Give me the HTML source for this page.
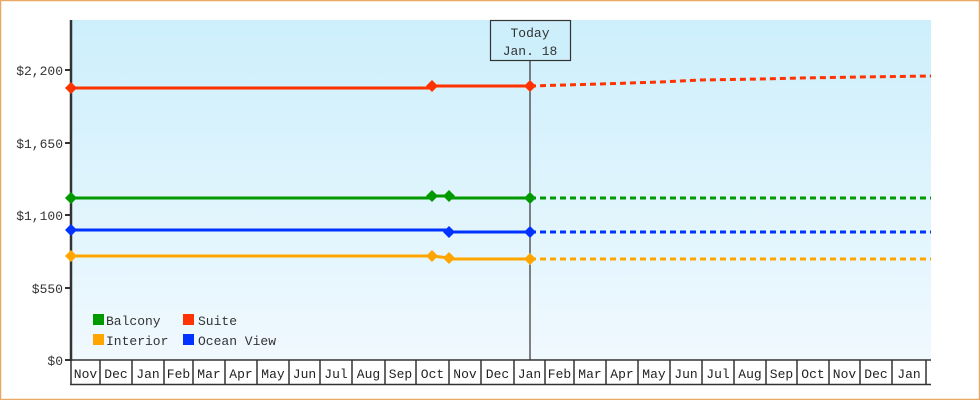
<!DOCTYPE html>
<html><head><meta charset="utf-8"><style>
html,body{margin:0;padding:0;background:#fff;}
svg{display:block;font-family:"Liberation Mono","DejaVu Sans Mono",monospace;}
</style></head><body>
<svg width="980" height="400" viewBox="0 0 980 400" xmlns="http://www.w3.org/2000/svg">
<defs>
<linearGradient id="bg" x1="0" y1="0" x2="0" y2="1">
<stop offset="0" stop-color="#cdeffc"/>
<stop offset="1" stop-color="#f0f9fe"/>
</linearGradient>
</defs>
<rect x="0.5" y="0.5" width="979" height="399" fill="#fff" stroke="#e9a865" stroke-width="1.5"/>
<rect x="71" y="20" width="860" height="340" fill="url(#bg)"/>
<line x1="71" y1="20" x2="71" y2="361" stroke="#333" stroke-width="2.5"/>
<g stroke="#333" stroke-width="2">
<line x1="65" y1="70" x2="71" y2="70"/><line x1="65" y1="143" x2="71" y2="143"/>
<line x1="65" y1="215" x2="71" y2="215"/><line x1="65" y1="288" x2="71" y2="288"/>
<line x1="65" y1="360" x2="71" y2="360"/>
</g>
<g font-size="13" fill="#333" text-anchor="end">
<text x="63" y="75">$2,200</text><text x="63" y="148">$1,650</text>
<text x="63" y="220">$1,100</text><text x="63" y="293">$550</text>
<text x="63" y="365">$0</text>
</g>
<g stroke="#333" stroke-width="1.5">
<line x1="70" y1="360" x2="931" y2="360"/>
<line x1="70" y1="384.5" x2="931" y2="384.5"/>
<line x1="71" y1="360" x2="71" y2="385"/><line x1="100" y1="360" x2="100" y2="385"/><line x1="132" y1="360" x2="132" y2="385"/><line x1="164" y1="360" x2="164" y2="385"/><line x1="193" y1="360" x2="193" y2="385"/><line x1="225" y1="360" x2="225" y2="385"/><line x1="257" y1="360" x2="257" y2="385"/><line x1="289" y1="360" x2="289" y2="385"/><line x1="320" y1="360" x2="320" y2="385"/><line x1="352" y1="360" x2="352" y2="385"/><line x1="385" y1="360" x2="385" y2="385"/><line x1="416" y1="360" x2="416" y2="385"/><line x1="449" y1="360" x2="449" y2="385"/><line x1="481" y1="360" x2="481" y2="385"/><line x1="514" y1="360" x2="514" y2="385"/><line x1="545" y1="360" x2="545" y2="385"/><line x1="574" y1="360" x2="574" y2="385"/><line x1="606" y1="360" x2="606" y2="385"/><line x1="638" y1="360" x2="638" y2="385"/><line x1="670" y1="360" x2="670" y2="385"/><line x1="702" y1="360" x2="702" y2="385"/><line x1="734" y1="360" x2="734" y2="385"/><line x1="766" y1="360" x2="766" y2="385"/><line x1="797" y1="360" x2="797" y2="385"/><line x1="829" y1="360" x2="829" y2="385"/><line x1="860" y1="360" x2="860" y2="385"/><line x1="892" y1="360" x2="892" y2="385"/><line x1="926" y1="360" x2="926" y2="385"/>
</g>
<g font-size="13" fill="#222" text-anchor="middle">
<text x="85.5" y="378">Nov</text><text x="116" y="378">Dec</text><text x="148" y="378">Jan</text><text x="178.5" y="378">Feb</text><text x="209" y="378">Mar</text><text x="241" y="378">Apr</text><text x="273" y="378">May</text><text x="304.5" y="378">Jun</text><text x="336" y="378">Jul</text><text x="368.5" y="378">Aug</text><text x="400.5" y="378">Sep</text><text x="432.5" y="378">Oct</text><text x="465" y="378">Nov</text><text x="497.5" y="378">Dec</text><text x="529.5" y="378">Jan</text><text x="559.5" y="378">Feb</text><text x="590" y="378">Mar</text><text x="622" y="378">Apr</text><text x="654" y="378">May</text><text x="686" y="378">Jun</text><text x="718" y="378">Jul</text><text x="750" y="378">Aug</text><text x="781.5" y="378">Sep</text><text x="813" y="378">Oct</text><text x="844.5" y="378">Nov</text><text x="876" y="378">Dec</text><text x="909" y="378">Jan</text>
</g>
<line x1="530" y1="60" x2="530" y2="360" stroke="#333" stroke-width="1.2"/>
<rect x="490.5" y="20.5" width="80" height="40" fill="#cdeffc" stroke="#333" stroke-width="1.2"/>
<g font-size="13" fill="#333" text-anchor="middle">
<text x="530" y="37">Today</text><text x="530" y="55">Jan. 18</text>
</g>
<g fill="none" stroke-width="3">
<polyline stroke="#ff3300" points="71,88 432,88 432,86 530,86"/>
<polyline stroke="#ff3300" stroke-dasharray="6,4" points="530,86 600,84 660,82 700,80 760,79 800,78 860,77 931,76"/>
<polyline stroke="#009900" points="71,198 432,198 432,196 449,196 449,198 530,198"/>
<polyline stroke="#009900" stroke-dasharray="6,4" points="530,198 931,198"/>
<polyline stroke="#0033ff" points="71,230 449,230 449,232 530,232"/>
<polyline stroke="#0033ff" stroke-dasharray="6,4" points="530,232 931,232"/>
<polyline stroke="#ffa500" points="71,256 432,256 449,258 449,259 530,259"/>
<polyline stroke="#ffa500" stroke-dasharray="6,4" points="530,259 931,259"/>
</g>
<g>
<g fill="#ff3300"><path d="M71,82 l6,6 l-6,6 l-6,-6z"/><path d="M432,80 l6,6 l-6,6 l-6,-6z"/><path d="M530,80 l6,6 l-6,6 l-6,-6z"/></g>
<g fill="#009900"><path d="M71,192 l6,6 l-6,6 l-6,-6z"/><path d="M432,190 l6,6 l-6,6 l-6,-6z"/><path d="M449,190 l6,6 l-6,6 l-6,-6z"/><path d="M530,192 l6,6 l-6,6 l-6,-6z"/></g>
<g fill="#0033ff"><path d="M71,224 l6,6 l-6,6 l-6,-6z"/><path d="M449,226 l6,6 l-6,6 l-6,-6z"/><path d="M530,226 l6,6 l-6,6 l-6,-6z"/></g>
<g fill="#ffa500"><path d="M71,250 l6,6 l-6,6 l-6,-6z"/><path d="M432,250 l6,6 l-6,6 l-6,-6z"/><path d="M449,252 l6,6 l-6,6 l-6,-6z"/><path d="M530,253 l6,6 l-6,6 l-6,-6z"/></g>
</g>
<rect x="93" y="314" width="11" height="11" fill="#009900"/>
<rect x="183" y="314" width="11" height="11" fill="#ff3300"/>
<rect x="93" y="334" width="11" height="11" fill="#ffa500"/>
<rect x="183" y="334" width="11" height="11" fill="#0033ff"/>
<g font-size="13" fill="#333">
<text x="106" y="325">Balcony</text><text x="198" y="325">Suite</text>
<text x="106" y="345">Interior</text><text x="198" y="345">Ocean View</text>
</g>
</svg>
</body></html>
